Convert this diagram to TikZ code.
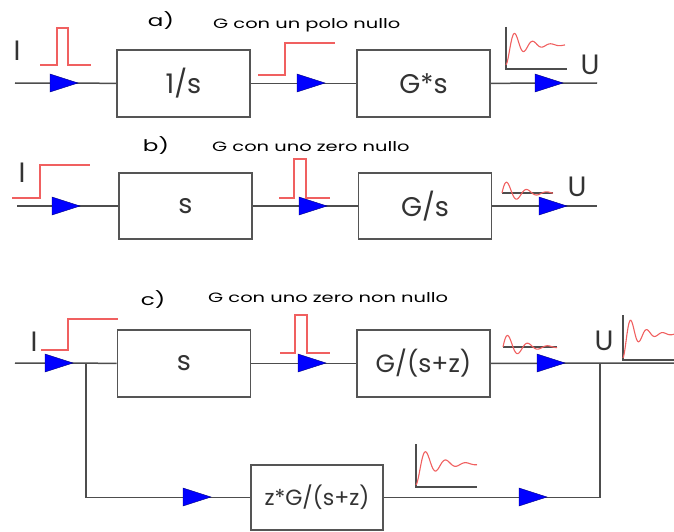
\documentclass[tikz,border=0pt]{standalone}
\usepackage{fontspec}
\setmainfont{Poppins}
\newfontfamily\headfont[FakeStretch=1.44]{Poppins}
\usetikzlibrary{positioning}
\definecolor{WireGray}{HTML}{4D4D4D}
\definecolor{BoxGray}{HTML}{555555}
\definecolor{SignalRed}{HTML}{F06060}
\definecolor{FlowBlue}{HTML}{0000FF}
\definecolor{FlowNavy}{HTML}{00007F}

\begin{document}
\begin{tikzpicture}[
    x=1pt, y=-1pt,
    block/.style={draw=BoxGray, line width=1.6pt, fill=white, minimum width=133pt, minimum height=67pt, inner sep=0pt, font=\fontsize{27}{30}\selectfont, text=black!80},
    wire/.style={draw=WireGray, line width=1.5pt},
    sig/.style={draw=SignalRed, line width=1.1pt},
    axis/.style={draw=WireGray, line width=1.2pt},
    iolabel/.style={font=\fontsize{28}{30}\selectfont, text=black!80, inner sep=0pt},
    tag/.style={font=\headfont\fontsize{16}{18}\selectfont, inner sep=0pt},
    heading/.style={font=\headfont\fontsize{13.5}{15}\selectfont, anchor=west, inner sep=0pt},
    flowtri/.pic={\filldraw[fill=FlowBlue, draw=FlowNavy, line width=0.4pt] (-28,-9) -- (0,0) -- (-28,9) -- cycle;}
]

  % Area of the picture
  \useasboundingbox (0,0) rectangle (674,532);

  % =========================================================================
  % a) G CON UN POLO NULLO
  % =========================================================================
  \node[tag] (a_tag) at (161,21) {a)};
  \node[heading] (a_head) at (213,25) {G con un polo nullo};
  \coordinate (a_in) at (15,83);
  \coordinate (a_out) at (597,83);
  \node[block] (a_int) at (183.5,83.5) {1/s};
  \node[block] (a_g) at (423.5,83.5) {G*s};
  \node[iolabel] (a_i) at (17,51) {I};
  \node[iolabel] (a_u) at (590,65) {U};

  \draw[wire] (a_in) -- (a_int);
  \draw[wire] (a_int) -- (a_g);
  \draw[wire] (a_g) -- (a_out);
  \pic at (78,83) {flowtri};
  \pic at (325,83) {flowtri};
  \pic at (563,83) {flowtri};

  % impulse in, step between, response out
  \draw[sig] (40,65) -- (57,65) -- (57,28) -- (68,28) -- (68,65) -- (91,65);
  \draw[sig] (258,75) -- (285,75) -- (285,43) -- (335,43);
  \draw[axis] (506,27) -- (506,69) -- (567,69);
  \draw[sig] plot[domain=0:59, samples=90] ({506+\x},{65-20*(1-exp(-\x/16)*cos(20*\x))});

  % =========================================================================
  % b) G CON UNO ZERO NULLO
  % =========================================================================
  \node[tag] (b_tag) at (156,146) {b)};
  \node[heading] (b_head) at (212,147) {G con uno zero nullo};
  \coordinate (b_in) at (17,206);
  \coordinate (b_out) at (597,206);
  \node[block, minimum height=66pt] (b_der) at (185.5,206) {s};
  \node[block, minimum height=66pt] (b_g) at (425,206) {G/s};
  \node[iolabel] (b_i) at (22,173) {I};
  \node[iolabel] (b_u) at (577,187) {U};

  \draw[wire] (b_in) -- (b_der);
  \draw[wire] (b_der) -- (b_g);
  \draw[wire] (b_g) -- (b_out);
  \pic at (80,206) {flowtri};
  \pic at (327,206) {flowtri};
  \pic at (567,206) {flowtri};

  \draw[sig] (12,198) -- (40,198) -- (40,165) -- (90,165);
  \draw[sig] (279,198) -- (294,198) -- (294,159) -- (306,159) -- (306,198) -- (330,198);
  \draw[axis] (502,193) -- (553,193);
  \draw[sig] plot[domain=0:51, samples=80] ({502+\x},{193-14*exp(-\x/18)*sin(18*\x)});

  % =========================================================================
  % c) G CON UNO ZERO NON NULLO
  % =========================================================================
  \node[tag] (c_tag) at (153,300) {c)};
  \node[heading] (c_head) at (208,298) {G con uno zero non nullo};
  \coordinate (c_in) at (15,363);
  \coordinate (c_split) at (86,363);
  \coordinate (c_join) at (600,363);
  \coordinate (c_out) at (674,363);
  \node[block] (c_der) at (184,363.5) {s};
  \node[block, font=\fontsize{25}{28}\selectfont] (c_g) at (423.5,363.5) {G/(s+z)};
  \node[block, minimum width=132pt, minimum height=65pt, font=\fontsize{22}{26}\selectfont] (c_zg) at (317,497.5) {z*G/(s+z)};
  \node[iolabel] (c_i) at (34,342) {I};
  \node[iolabel] (c_u) at (604,341) {U};

  \draw[wire] (c_in) -- (c_der);
  \draw[wire] (c_der) -- (c_g);
  \draw[wire] (c_g) -- (c_out);
  \draw[wire] (c_split) |- (c_zg);
  \draw[wire] (c_zg) -| (c_join);
  \pic at (73,363) {flowtri};
  \pic at (326,363) {flowtri};
  \pic at (565,363) {flowtri};
  \pic at (211,497) {flowtri};
  \pic at (547,497) {flowtri};

  \draw[sig] (41,350) -- (68,350) -- (68,319) -- (118,319);
  \draw[sig] (280,353) -- (295,353) -- (295,315) -- (307,315) -- (307,353) -- (330,353);
  \draw[axis] (503,347) -- (557,347);
  \draw[sig] plot[domain=0:54, samples=80] ({503+\x},{347-15*exp(-\x/18)*sin(18*\x)});
  \draw[axis] (623,315) -- (623,360) -- (674,360);
  \draw[sig] plot[domain=0:51, samples=80] ({623+\x},{358-24*(1-exp(-\x/14)*cos(22.5*\x))});
  \draw[axis] (416,444) -- (416,487) -- (477,487);
  \draw[sig] plot[domain=0:61, samples=90] ({416+\x},{485-21*(1-exp(-\x/18)*cos(18*\x))});

\end{tikzpicture}
\end{document}
